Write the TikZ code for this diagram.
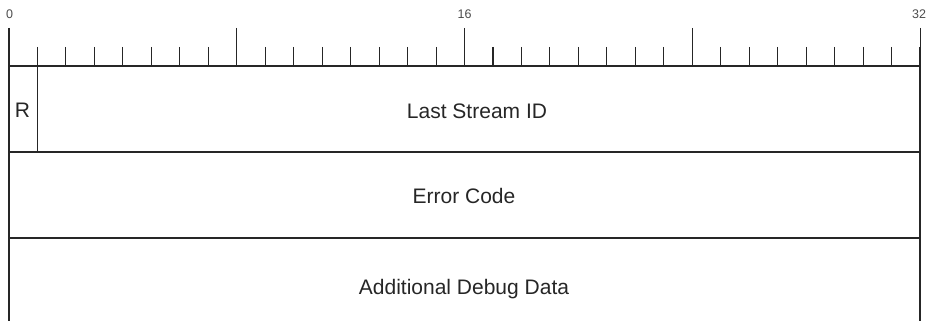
\documentclass[tikz,border=0pt]{standalone}
\usepackage{fontspec}
\setmainfont{Liberation Sans}
\usetikzlibrary{positioning}

\begin{document}
\begin{tikzpicture}[x=1pt, y=-1pt,
    rule/.style={line width=1.1pt, draw=black!85},
    field/.style={font=\fontsize{21}{24}\selectfont, text=black!85, inner sep=0pt, anchor=base},
    bitnum/.style={font=\fontsize{12.5}{14}\selectfont, text=black!70, inner sep=0pt, anchor=base}
]
\useasboundingbox (0,0) rectangle (926,321);

% Bit ruler
\foreach \b in {0,...,32} {
    \pgfmathsetmacro\bx{9+\b*28.47}
    \draw[rule] (\bx,47) -- (\bx,66);
}
\foreach \b in {0,8,16,24,32} {
    \pgfmathsetmacro\bx{9+\b*28.47}
    \draw[rule] (\bx,28) -- (\bx,47);
}
\node[bitnum] (b0) at (9.5,18.5) {0};
\node[bitnum] (b16) at (464.5,18.5) {16};
\node[bitnum] (b32) at (919,18.5) {32};

% Frame rows
\coordinate (tl) at (9,66);
\coordinate (tr) at (920,66);
\draw[rule] (tl) -- (tr);
\draw[rule] (9,152) -- (920,152);
\draw[rule] (9,238) -- (920,238);
\draw[rule] (9,47) -- (9,321);
\draw[rule] (920,47) -- (920,321);
\draw[rule] (37.5,66) -- (37.5,152);

% Fields
\node[field] (rbit) at (22.5,117.5) {R};
\node[field] (lastid) at (477,118) {Last Stream ID};
\node[field] (errcode) at (464,203) {Error Code};
\node[field] (debug) at (464,294) {Additional Debug Data};

\end{tikzpicture}
\end{document}
